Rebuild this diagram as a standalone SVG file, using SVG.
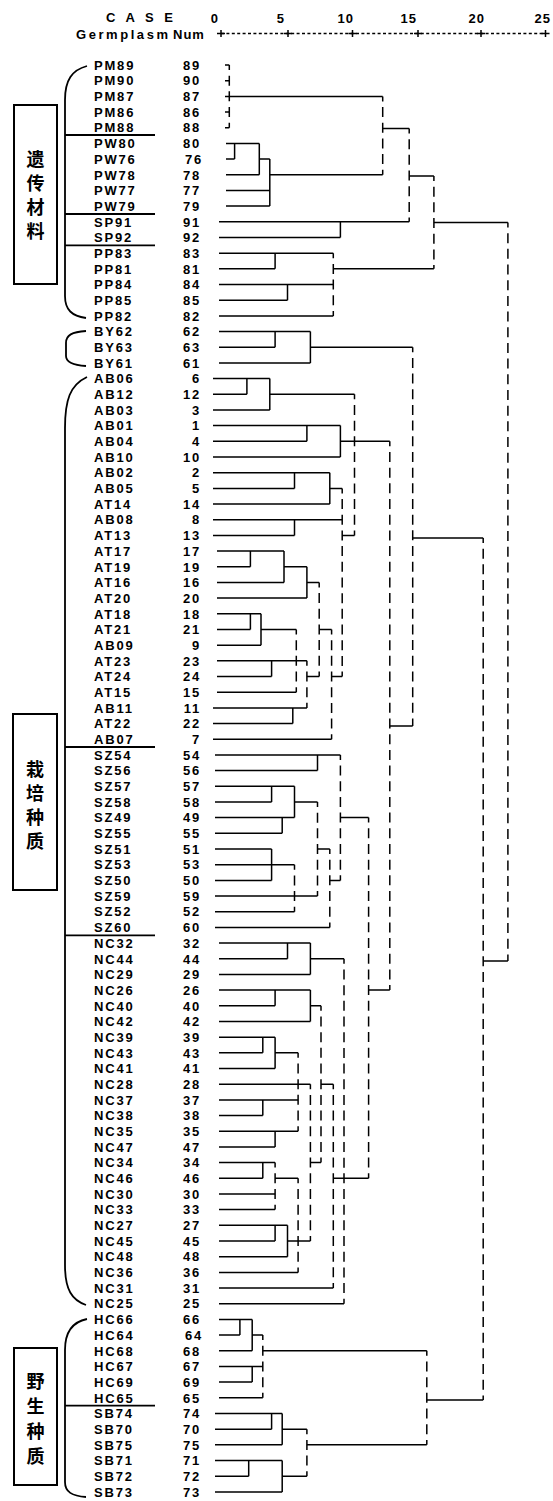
<svg xmlns="http://www.w3.org/2000/svg" width="553" height="1501" viewBox="0 0 553 1501">
<style>
.t{font-family:"Liberation Sans",Arial,sans-serif;font-size:13px;font-weight:bold;letter-spacing:1.8px;fill:#000}
.n{text-anchor:end}
.h{font-family:"Liberation Sans",Arial,sans-serif;font-size:13px;font-weight:bold;fill:#000}
.he{text-anchor:end;letter-spacing:1px}
.l{fill:none;stroke:#000;stroke-width:1.5}
.d{fill:none;stroke:#000;stroke-width:1.5;stroke-dasharray:10 5.68;stroke-dashoffset:5}
.br{fill:none;stroke:#000;stroke-width:1.8}
.box{fill:none;stroke:#000;stroke-width:2}
.cjk{font-family:"Noto Sans CJK SC","Noto Sans CJK JP",sans-serif;font-size:18px;font-weight:bold;text-anchor:middle;fill:#000}
</style>
<rect width="553" height="1501" fill="#fff"/>
<g id="header">
<text class="h" x="106" y="22" font-size="14" letter-spacing="3.5">C A S E</text>
<text class="h he" x="219" y="23">0</text>
<text class="h he" x="285" y="23">5</text>
<text class="h he" x="354" y="23">10</text>
<text class="h he" x="417" y="23">15</text>
<text class="h he" x="485" y="23">20</text>
<text class="h he" x="551" y="23">25</text>
<text class="h" x="76" y="38.5" font-size="12" textLength="92" lengthAdjust="spacing">Germplasm</text>
<text class="h" x="173" y="38.5" letter-spacing="1">Num</text>
<path class="l" d="M221 33.5H545.5" stroke-dasharray="3 2.4" stroke-width="1.1"/>
<path class="l" d="M221 30V37M217 33.5H225M288 30V37M284 33.5H292M352.5 30V37M348.5 33.5H356.5M418 30V37M414 33.5H422M481 30V37M477 33.5H485M545.5 30V37M541.5 33.5H549.5"/>
</g>
<g id="group-box-1">
<rect class="box" x="14" y="105" width="43" height="179"/>
<text class="cjk" x="35.5" y="165.5">遗</text>
<text class="cjk" x="35.5" y="189.5">传</text>
<text class="cjk" x="35.5" y="213.5">材</text>
<text class="cjk" x="35.5" y="237.5">料</text>
</g>
<g id="group-box-2">
<rect class="box" x="13" y="714" width="44" height="176"/>
<text class="cjk" x="35" y="775.5">栽</text>
<text class="cjk" x="35" y="799.5">培</text>
<text class="cjk" x="35" y="823.5">种</text>
<text class="cjk" x="35" y="847.5">质</text>
</g>
<g id="group-box-3">
<rect class="box" x="14" y="1348" width="43" height="137"/>
<text class="cjk" x="35.5" y="1387.5">野</text>
<text class="cjk" x="35.5" y="1412.5">生</text>
<text class="cjk" x="35.5" y="1437.5">种</text>
<text class="cjk" x="35.5" y="1462.5">质</text>
</g>
<g id="leaves">
<g id="n89"><text class="t" x="94" y="69.7">PM89</text><text class="t n" x="201" y="69.7">89</text></g>
<g id="n90"><text class="t" x="94" y="85.4">PM90</text><text class="t n" x="201" y="85.4">90</text></g>
<g id="n87"><text class="t" x="94" y="101.1">PM87</text><text class="t n" x="201" y="101.1">87</text></g>
<g id="n86"><text class="t" x="94" y="116.7">PM86</text><text class="t n" x="201" y="116.7">86</text></g>
<g id="n88"><text class="t" x="94" y="132.4">PM88</text><text class="t n" x="201" y="132.4">88</text></g>
<g id="n80"><text class="t" x="94" y="148.1">PW80</text><text class="t n" x="201" y="148.1">80</text></g>
<g id="n76"><text class="t" x="94" y="163.8">PW76</text><text class="t n" x="203" y="163.8">76</text></g>
<g id="n78"><text class="t" x="94" y="179.5">PW78</text><text class="t n" x="201" y="179.5">78</text></g>
<g id="n77"><text class="t" x="94" y="195.1">PW77</text><text class="t n" x="201" y="195.1">77</text></g>
<g id="n79"><text class="t" x="94" y="210.8">PW79</text><text class="t n" x="201" y="210.8">79</text></g>
<g id="n91"><text class="t" x="94" y="226.5">SP91</text><text class="t n" x="201" y="226.5">91</text></g>
<g id="n92"><text class="t" x="94" y="242.2">SP92</text><text class="t n" x="201" y="242.2">92</text></g>
<g id="n83"><text class="t" x="94" y="257.9">PP83</text><text class="t n" x="201" y="257.9">83</text></g>
<g id="n81"><text class="t" x="94" y="273.5">PP81</text><text class="t n" x="201" y="273.5">81</text></g>
<g id="n84"><text class="t" x="94" y="289.2">PP84</text><text class="t n" x="201" y="289.2">84</text></g>
<g id="n85"><text class="t" x="94" y="304.9">PP85</text><text class="t n" x="201" y="304.9">85</text></g>
<g id="n82"><text class="t" x="94" y="320.6">PP82</text><text class="t n" x="201" y="320.6">82</text></g>
<g id="n62"><text class="t" x="94" y="336.3">BY62</text><text class="t n" x="201" y="336.3">62</text></g>
<g id="n63"><text class="t" x="94" y="351.9">BY63</text><text class="t n" x="201" y="351.9">63</text></g>
<g id="n61"><text class="t" x="94" y="367.6">BY61</text><text class="t n" x="201" y="367.6">61</text></g>
<g id="n6"><text class="t" x="94" y="383.3">AB06</text><text class="t n" x="201" y="383.3">6</text></g>
<g id="n12"><text class="t" x="94" y="399">AB12</text><text class="t n" x="201" y="399">12</text></g>
<g id="n3"><text class="t" x="94" y="414.7">AB03</text><text class="t n" x="201" y="414.7">3</text></g>
<g id="n1"><text class="t" x="94" y="430.3">AB01</text><text class="t n" x="201" y="430.3">1</text></g>
<g id="n4"><text class="t" x="94" y="446">AB04</text><text class="t n" x="201" y="446">4</text></g>
<g id="n10"><text class="t" x="94" y="461.7">AB10</text><text class="t n" x="201" y="461.7">10</text></g>
<g id="n2"><text class="t" x="94" y="477.4">AB02</text><text class="t n" x="201" y="477.4">2</text></g>
<g id="n5"><text class="t" x="94" y="493.1">AB05</text><text class="t n" x="201" y="493.1">5</text></g>
<g id="n14"><text class="t" x="94" y="508.7">AT14</text><text class="t n" x="201" y="508.7">14</text></g>
<g id="n8"><text class="t" x="94" y="524.4">AB08</text><text class="t n" x="201" y="524.4">8</text></g>
<g id="n13"><text class="t" x="94" y="540.1">AT13</text><text class="t n" x="201" y="540.1">13</text></g>
<g id="n17"><text class="t" x="94" y="555.8">AT17</text><text class="t n" x="201" y="555.8">17</text></g>
<g id="n19"><text class="t" x="94" y="571.5">AT19</text><text class="t n" x="201" y="571.5">19</text></g>
<g id="n16"><text class="t" x="94" y="587.1">AT16</text><text class="t n" x="201" y="587.1">16</text></g>
<g id="n20"><text class="t" x="94" y="602.8">AT20</text><text class="t n" x="201" y="602.8">20</text></g>
<g id="n18"><text class="t" x="94" y="618.5">AT18</text><text class="t n" x="201" y="618.5">18</text></g>
<g id="n21"><text class="t" x="94" y="634.2">AT21</text><text class="t n" x="201" y="634.2">21</text></g>
<g id="n9"><text class="t" x="94" y="649.9">AB09</text><text class="t n" x="201" y="649.9">9</text></g>
<g id="n23"><text class="t" x="94" y="665.5">AT23</text><text class="t n" x="201" y="665.5">23</text></g>
<g id="n24"><text class="t" x="94" y="681.2">AT24</text><text class="t n" x="201" y="681.2">24</text></g>
<g id="n15"><text class="t" x="94" y="696.9">AT15</text><text class="t n" x="201" y="696.9">15</text></g>
<g id="n11"><text class="t" x="94" y="712.6">AB11</text><text class="t n" x="201" y="712.6">11</text></g>
<g id="n22"><text class="t" x="94" y="728.3">AT22</text><text class="t n" x="201" y="728.3">22</text></g>
<g id="n7"><text class="t" x="94" y="743.9">AB07</text><text class="t n" x="201" y="743.9">7</text></g>
<g id="n54"><text class="t" x="94" y="759.6">SZ54</text><text class="t n" x="201" y="759.6">54</text></g>
<g id="n56"><text class="t" x="94" y="775.3">SZ56</text><text class="t n" x="201" y="775.3">56</text></g>
<g id="n57"><text class="t" x="94" y="791">SZ57</text><text class="t n" x="201" y="791">57</text></g>
<g id="n58"><text class="t" x="94" y="806.7">SZ58</text><text class="t n" x="201" y="806.7">58</text></g>
<g id="n49"><text class="t" x="94" y="822.3">SZ49</text><text class="t n" x="201" y="822.3">49</text></g>
<g id="n55"><text class="t" x="94" y="838">SZ55</text><text class="t n" x="201" y="838">55</text></g>
<g id="n51"><text class="t" x="94" y="853.7">SZ51</text><text class="t n" x="201" y="853.7">51</text></g>
<g id="n53"><text class="t" x="94" y="869.4">SZ53</text><text class="t n" x="201" y="869.4">53</text></g>
<g id="n50"><text class="t" x="94" y="885.1">SZ50</text><text class="t n" x="201" y="885.1">50</text></g>
<g id="n59"><text class="t" x="94" y="900.7">SZ59</text><text class="t n" x="201" y="900.7">59</text></g>
<g id="n52"><text class="t" x="94" y="916.4">SZ52</text><text class="t n" x="201" y="916.4">52</text></g>
<g id="n60"><text class="t" x="94" y="932.1">SZ60</text><text class="t n" x="201" y="932.1">60</text></g>
<g id="n32"><text class="t" x="94" y="947.8">NC32</text><text class="t n" x="201" y="947.8">32</text></g>
<g id="n44"><text class="t" x="94" y="963.5">NC44</text><text class="t n" x="201" y="963.5">44</text></g>
<g id="n29"><text class="t" x="94" y="979.1">NC29</text><text class="t n" x="201" y="979.1">29</text></g>
<g id="n26"><text class="t" x="94" y="994.8">NC26</text><text class="t n" x="201" y="994.8">26</text></g>
<g id="n40"><text class="t" x="94" y="1010.5">NC40</text><text class="t n" x="201" y="1010.5">40</text></g>
<g id="n42"><text class="t" x="94" y="1026.2">NC42</text><text class="t n" x="201" y="1026.2">42</text></g>
<g id="n39"><text class="t" x="94" y="1041.9">NC39</text><text class="t n" x="201" y="1041.9">39</text></g>
<g id="n43"><text class="t" x="94" y="1057.5">NC43</text><text class="t n" x="201" y="1057.5">43</text></g>
<g id="n41"><text class="t" x="94" y="1073.2">NC41</text><text class="t n" x="201" y="1073.2">41</text></g>
<g id="n28"><text class="t" x="94" y="1088.9">NC28</text><text class="t n" x="201" y="1088.9">28</text></g>
<g id="n37"><text class="t" x="94" y="1104.6">NC37</text><text class="t n" x="201" y="1104.6">37</text></g>
<g id="n38"><text class="t" x="94" y="1120.3">NC38</text><text class="t n" x="201" y="1120.3">38</text></g>
<g id="n35"><text class="t" x="94" y="1135.9">NC35</text><text class="t n" x="201" y="1135.9">35</text></g>
<g id="n47"><text class="t" x="94" y="1151.6">NC47</text><text class="t n" x="201" y="1151.6">47</text></g>
<g id="n34"><text class="t" x="94" y="1167.3">NC34</text><text class="t n" x="201" y="1167.3">34</text></g>
<g id="n46"><text class="t" x="94" y="1183">NC46</text><text class="t n" x="201" y="1183">46</text></g>
<g id="n30"><text class="t" x="94" y="1198.7">NC30</text><text class="t n" x="201" y="1198.7">30</text></g>
<g id="n33"><text class="t" x="94" y="1214.3">NC33</text><text class="t n" x="201" y="1214.3">33</text></g>
<g id="n27"><text class="t" x="94" y="1230">NC27</text><text class="t n" x="201" y="1230">27</text></g>
<g id="n45"><text class="t" x="94" y="1245.7">NC45</text><text class="t n" x="201" y="1245.7">45</text></g>
<g id="n48"><text class="t" x="94" y="1261.4">NC48</text><text class="t n" x="201" y="1261.4">48</text></g>
<g id="n36"><text class="t" x="94" y="1277.1">NC36</text><text class="t n" x="201" y="1277.1">36</text></g>
<g id="n31"><text class="t" x="94" y="1292.7">NC31</text><text class="t n" x="201" y="1292.7">31</text></g>
<g id="n25"><text class="t" x="94" y="1308.4">NC25</text><text class="t n" x="201" y="1308.4">25</text></g>
<g id="n66"><text class="t" x="94" y="1324.1">HC66</text><text class="t n" x="201" y="1324.1">66</text></g>
<g id="n64"><text class="t" x="94" y="1339.8">HC64</text><text class="t n" x="203" y="1339.8">64</text></g>
<g id="n68"><text class="t" x="94" y="1355.5">HC68</text><text class="t n" x="201" y="1355.5">68</text></g>
<g id="n67"><text class="t" x="94" y="1371.1">HC67</text><text class="t n" x="201" y="1371.1">67</text></g>
<g id="n69"><text class="t" x="94" y="1386.8">HC69</text><text class="t n" x="201" y="1386.8">69</text></g>
<g id="n65"><text class="t" x="94" y="1402.5">HC65</text><text class="t n" x="201" y="1402.5">65</text></g>
<g id="n74"><text class="t" x="94" y="1418.2">SB74</text><text class="t n" x="201" y="1418.2">74</text></g>
<g id="n70"><text class="t" x="94" y="1433.9">SB70</text><text class="t n" x="201" y="1433.9">70</text></g>
<g id="n75"><text class="t" x="94" y="1449.5">SB75</text><text class="t n" x="201" y="1449.5">75</text></g>
<g id="n71"><text class="t" x="94" y="1465.2">SB71</text><text class="t n" x="201" y="1465.2">71</text></g>
<g id="n72"><text class="t" x="94" y="1480.9">SB72</text><text class="t n" x="201" y="1480.9">72</text></g>
<g id="n73"><text class="t" x="94" y="1496.6">SB73</text><text class="t n" x="201" y="1496.6">73</text></g>
</g>
<g id="brackets">
<path class="br" d="M87 66C72 70 65 80 65 100V296C65 310 72 316 86 318"/>
<path class="br" d="M65 135H155M65 214H155M65 245.4H155"/>
<path class="br" d="M86 331C72 332 66 335 66 343V356C66 362 72 365 86 366"/>
<path class="br" d="M87 377C70 385 65 400 65 428V1265C65 1290 72 1300 86 1305"/>
<path class="br" d="M65 747H155M65 935.3H155"/>
<path class="br" d="M87 1319C72 1322 65 1332 65 1350V1482C65 1492 72 1496 86 1497"/>
<path class="br" d="M65 1405.6H155"/>
</g>
<g id="connectors">
<path class="l" d="M225 65H229.3M225 80.7H229.3M225 112H229.3M225 127.7H229.3M225 96.4H382.7M382.7 128.5H409.2M409.2 176H433.9M433.9 222.5H507.9M483.2 961H507.9
M226 143.4H259.3M226 159.1H234.6M234.6 143.4V159.1M259.3 143.4V174.8M226 174.8H259.3M269.8 174.8H382.7M259.3 159.1H269.8M226 190.4H269.8M226 206.1H269.8M269.8 159.1V206.1
M219 221.8H409.2M219 237.5H340.4M340.4 221.8V237.5
M219 253.2H333.3M219 268.8H275.1M275.1 253.2V268.8M219 284.5H333.3M219 300.2H287.5M287.5 284.5V300.2M219 315.9H333.3M333.3 268.8H433.9
M219 331.6H310.4M219 347.2H275.1M275.1 331.6V347.2M219 362.9H310.4M310.4 331.6V362.9M310.4 347.2H412.7M412.7 538H483.2M426.8 1400H483.2
M213 378.6H269.8M213 394.3H246.9M246.9 378.6V394.3M213 410H269.8M269.8 378.6V410M269.8 394.3H354.5
M213 425.6H340.4M213 441.3H306.9M306.9 425.6V441.3M213 457H340.4M340.4 425.6V457M340.4 441.3H389.8
M213 472.7H329.8M213 488.4H294.5M294.5 472.7V488.4M213 504H329.8M329.8 472.7V504M329.8 488.4H342.2
M213 519.7H342.2M213 535.4H294.5M294.5 519.7V535.4M342.2 535.4H354.5M389.8 726H412.7
M217 551.1H284M217 566.8H250.4M250.4 551.1V566.8M217 582.4H284M284 551.1V582.4M284 566.8H306.9
M217 598.1H306.9M306.9 566.8V598.1M306.9 582.4H319.2
M217 613.8H261M217 629.5H250.4M250.4 613.8V629.5M217 645.2H261M261 613.8V645.2M261 629.5H296.3
M217 660.8H306.9M217 676.5H271.6M271.6 660.8V676.5M217 692.2H296.3
M213 707.9H306.9M213 723.6H292.8M292.8 707.9V723.6M306.9 676.5H319.2M319.2 629.5H331.6M213 739.2H331.6M331.6 676.5H342.2
M215 754.9H340.4M215 770.6H317.5M317.5 754.9V770.6M215 786.3H294.5M215 802H271.6M271.6 786.3V802
M215 817.6H294.5M215 833.3H282.2M282.2 817.6V833.3M294.5 786.3V817.6M294.5 802H317.5
M215 849H271.6M215 864.7H294.5M215 880.4H271.6M271.6 849V880.4M215 911.7H294.5M215 896H317.5M317.5 849H329.8
M215 927.4H329.8M329.8 880.4H340.4M340.4 817.6H368.6M368.6 990.1H389.8
M219 943.1H310.4M219 958.8H287.5M287.5 943.1V958.8M219 974.4H310.4M310.4 943.1V974.4M310.4 958.8H344
M219 990.1H310.4M219 1005.8H275.1M275.1 990.1V1005.8M219 1021.5H310.4M310.4 990.1V1021.5M310.4 1005.8H321
M219 1037.2H275.1M219 1052.8H262.8M262.8 1037.2V1052.8M219 1068.5H275.1M275.1 1037.2V1068.5M275.1 1052.8H298.1
M219 1084.2H310.4M219 1099.9H298.1M219 1115.6H262.8M262.8 1099.9V1115.6M219 1131.2H298.1M219 1146.9H275.1M275.1 1131.2V1146.9
M219 1162.6H275.1M219 1178.3H262.8M262.8 1162.6V1178.3M219 1194H275.1M219 1209.6H275.1M275.1 1178.3H298.1
M219 1225.3H287.5M219 1241H275.1M275.1 1225.3V1241M219 1256.7H287.5M287.5 1225.3V1256.7M287.5 1241H310.4
M219 1272.4H298.1M310.4 1162.6H321M321 1084.2H333.3M219 1288H333.3M333.3 1178.3H368.6M219 1303.7H344
M219 1319.4H252.2M219 1335.1H239.9M239.9 1319.4V1335.1M219 1350.8H252.2M252.2 1319.4V1350.8M252.2 1335.1H262.8
M219 1366.4H262.8M219 1382.1H252.2M252.2 1366.4V1382.1M219 1397.8H262.8M262.8 1350.8H426.8
M215 1413.5H282.2M215 1429.2H271.6M271.6 1413.5V1429.2M215 1444.8H282.2M282.2 1413.5V1444.8M282.2 1429.2H306.9
M215 1460.5H282.2M215 1476.2H248.7M248.7 1460.5V1476.2M215 1491.9H282.2M282.2 1460.5V1491.9M282.2 1476.2H306.9M306.9 1444.8H426.8"/>
<path class="d" d="M229.3 65V127.7M382.7 96.4V174.8M409.2 128.5V221.8M433.9 176V268.8M507.9 222.5V961
M333.3 253.2V315.9M412.7 347.2V726M483.2 538V1400
M354.5 394.3V535.4M342.2 488.4V676.5M389.8 441.3V990.1
M319.2 582.4V676.5M296.3 629.5V692.2M306.9 660.8V707.9M331.6 629.5V739.2
M294.5 864.7V911.7M317.5 802V896M329.8 849V927.4M340.4 754.9V880.4M368.6 817.6V1178.3
M344 958.8V1303.7M321 1005.8V1162.6M298.1 1052.8V1131.2M275.1 1162.6V1209.6M298.1 1178.3V1272.4M310.4 1084.2V1241M333.3 1084.2V1288
M262.8 1335.1V1397.8M426.8 1350.8V1444.8M306.9 1429.2V1476.2"/>
</g>
</svg>
